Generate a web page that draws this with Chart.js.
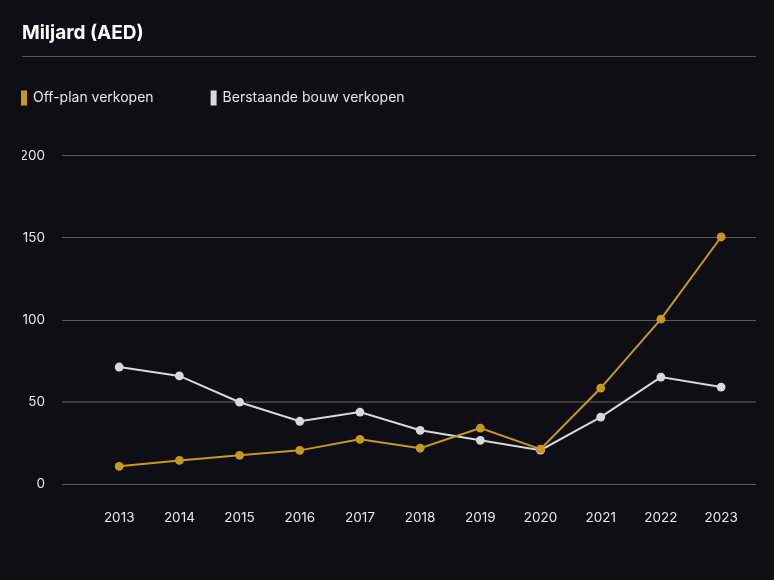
<!DOCTYPE html>
<html>
<head>
<meta charset="utf-8">
<script src="https://cdn.jsdelivr.net/npm/chart.js@4.4.0/dist/chart.umd.min.js"></script>
<style>
  html, body { margin: 0; padding: 0; background: #0f0e15; }
  #wrap { width: 774px; height: 580px; position: relative; }
</style>
</head>
<body>
<div id="wrap"><canvas id="c" width="774" height="580"></canvas></div>
<script>
const titleText = 'Miljard (AED)';
const years = [2013, 2014, 2015, 2016, 2017, 2018, 2019, 2020, 2021, 2022, 2023];
const offPlan = [11, 14.6, 17.7, 20.7, 27.4, 22, 34.2, 21.4, 58.6, 100.5, 150.5];
const existing = [71.4, 66, 50, 38.4, 44, 32.9, 26.8, 20.8, 40.9, 65.3, 59.2];
const seriesNames = ['Off-plan verkopen', 'Berstaande bouw verkopen'];
const yTicks = [0, 50, 100, 150, 200];

const GOLD = '#c49a24';
const LIGHT = '#d9d9db';
const FONT = 'Inter, "DejaVu Sans", sans-serif';

const headerPlugin = {
  id: 'header',
  afterLayout(chart) {
    const lg = chart.legend;
    const p = lg.options.labels.padding;
    lg.left = 22 - p;
    lg.top = 91 - p;
  },
  beforeDraw(chart) {
    const ctx = chart.ctx;
    ctx.save();
    ctx.fillStyle = '#0f0e15';
    ctx.fillRect(0, 0, chart.width, chart.height);
    ctx.strokeStyle = '#55555a';
    ctx.lineWidth = 1;
    ctx.beginPath();
    ctx.moveTo(22, 56.5);
    ctx.lineTo(756, 56.5);
    ctx.stroke();
    ctx.restore();
  }
};

new Chart(document.getElementById('c'), {
  type: 'line',
  data: {
    datasets: [
      {
        label: seriesNames[0],
        data: years.map((y, i) => ({ x: y, y: offPlan[i] })),
        borderColor: GOLD, backgroundColor: GOLD,
        pointBackgroundColor: GOLD, pointBorderWidth: 0,
        pointRadius: 4.4, borderWidth: 2, tension: 0
      },
      {
        label: seriesNames[1],
        data: years.map((y, i) => ({ x: y, y: existing[i] })),
        borderColor: LIGHT, backgroundColor: LIGHT,
        pointBackgroundColor: LIGHT, pointBorderWidth: 0,
        pointRadius: 4.4, borderWidth: 2, tension: 0
      }
    ]
  },
  options: {
    responsive: false,
    animation: false,
    layout: { padding: { left: 22, right: 18, top: 0, bottom: 37.4 } },
    plugins: {
      tooltip: { enabled: false },
      title: {
        display: true, text: titleText, align: 'start', color: '#ffffff',
        font: { family: FONT, size: 19, weight: 'bold' },
        padding: { top: 21.6, bottom: 29.2 }
      },
      legend: {
        display: true, align: 'start',
        labels: {
          boxWidth: 4, boxHeight: 13, padding: 58, color: '#e6e6e8',
          font: { family: FONT, size: 14 }
        }
      }
    },
    scales: {
      x: {
        type: 'linear', min: 2012.05, max: 2023.58,
        afterBuildTicks(scale) { scale.ticks = years.map(v => ({ value: v })); },
        ticks: { color: '#e8e8ea', font: { family: FONT, size: 13.5 }, padding: 17,
                 callback: v => String(v), autoSkip: false, maxRotation: 0 },
        grid: { display: false },
        border: { display: false }
      },
      y: {
        min: 0, max: 200,
        afterBuildTicks(scale) { scale.ticks = yTicks.map(v => ({ value: v })); },
        afterFit(scale) { scale.width = 40; },
        ticks: { color: '#e8e8ea', font: { family: FONT, size: 13.5 }, padding: 17 },
        grid: {
          drawTicks: false,
          color: ctx => ctx.tick && ctx.tick.value === 50 ? '#3a3a3f' : '#5a5a5f',
          lineWidth: ctx => ctx.tick && ctx.tick.value === 50 ? 2 : 1
        },
        border: { display: false }
      }
    }
  },
  plugins: [headerPlugin]
});
</script>
</body>
</html>
